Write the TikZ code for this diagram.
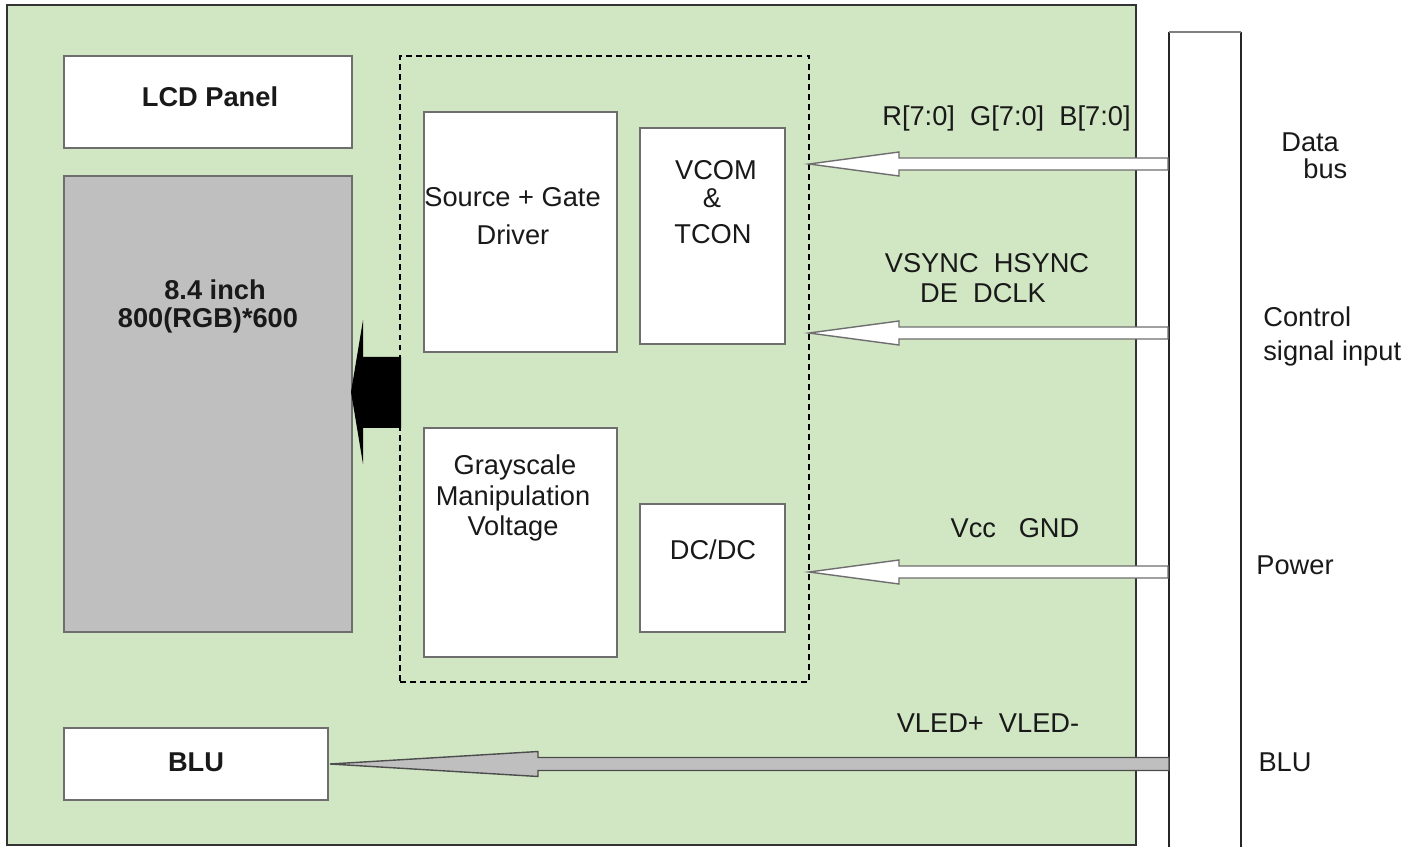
\documentclass[tikz,border=0pt]{standalone}
\usepackage{fontspec}
\setmainfont{Liberation Sans}
\usetikzlibrary{fit,calc}
\definecolor{bggreen}{RGB}{209,231,196}
\definecolor{panelgray}{RGB}{191,191,191}
\definecolor{edgegray}{RGB}{110,110,110}
\definecolor{txt}{RGB}{25,25,25}
\newcommand\flatarrow[6]{(#1,#2) -- (#3,{#2-#5}) -- (#3,{#2-#6}) -- (#4,{#2-#6}) -- (#4,{#2+#6}) -- (#3,{#2+#6}) -- (#3,{#2+#5}) -- cycle}
\begin{document}
\begin{tikzpicture}[x=0.02cm,y=-0.02cm,
  every node/.style={font=\fontsize{15.5}{18}\selectfont, text=txt, inner sep=0pt},
  box/.style={draw=edgegray, line width=0.8pt, fill=white, inner sep=0pt},
  lbl/.style={anchor=base},
  lblw/.style={anchor=base west},
  bold/.style={font=\fontsize{15.5}{18}\selectfont\bfseries},
  sigarrow/.style={draw=edgegray, line width=0.8pt, fill=white},
]
\useasboundingbox (0,0) rectangle (1419,847);
% background board
\node[draw=black!80, line width=0.8pt, fill=bggreen, fit={(7,5)(1136,845)}] (board) {};
% connector bar
\coordinate (barTL) at (1169,32);
\coordinate (barTR) at (1241,32);
\fill[white] (1169,32) rectangle (1241,847);
\draw[black!85, line width=0.8pt] (1169,847) -- (barTL);
\draw[black!85, line width=0.8pt] (1241,847) -- (barTR);
\draw[gray, line width=1pt] (barTL) -- (barTR);

% boxes
\node[box, fit={(64,56)(352,148)}] (lcd) {};
\node[box, fill=panelgray, fit={(64,176)(352,632)}] (panel) {};
\node[draw=black, dash pattern=on 3.4pt off 2.3pt, line width=0.9pt, fit={(400,56)(809,682)}] (ctrl) {};
\node[box, fit={(424,112)(617,352)}] (src) {};
\node[box, fit={(640,128)(785,344)}] (vcom) {};
\node[box, fit={(424,428)(617,657)}] (gray) {};
\node[box, fit={(640,504)(785,632)}] (dcdc) {};
\node[box, fit={(64,728)(328,800)}] (blu) {};

% texts in boxes
\node[lbl, bold] (tlcd) at (210,107) {LCD Panel};
\node[lbl, bold] (tsize1) at (215,300) {8.4 inch};
\node[lbl, bold] (tsize2) at (208,328) {800(RGB)*600};
\node[lblw] (tsrc1) at (424,207) {Source + Gate};
\node[lbl] (tsrc2) at (513,245) {Driver};
\node[lbl] (tv1) at (716,180) {VCOM};
\node[lbl] (tv2) at (712,208) {\&};
\node[lbl] (tv3) at (713,244) {TCON};
\node[lbl] (tg1) at (515,475) {Grayscale};
\node[lbl] (tg2) at (513,505) {Manipulation};
\node[lbl] (tg3) at (513,535) {Voltage};
\node[lbl] (tdc) at (713,559) {DC/DC};
\node[lbl, bold] (tblu) at (196,771) {BLU};

% signal labels
\node[lblw] (sdata) at (882,126) {R[7:0]\ \ G[7:0]\ \ B[7:0]};
\node[lbl] (sctl1) at (987,273) {VSYNC\ \ HSYNC};
\node[lbl] (sctl2) at (983,303) {DE\ \ DCLK};
\node[lbl] (spow) at (1015,537) {Vcc\ \ \ GND};
\node[lbl] (sled) at (988,732) {VLED+\ \ VLED-};

% right labels
\node[lblw] (rdata1) at (1281,152) {Data};
\node[lblw] (rdata2) at (1303,179) {bus};
\node[lblw] (rctl1) at (1263,327) {Control};
\node[lblw] (rctl2) at (1263,361) {signal input};
\node[lbl] (rpow) at (1295,574) {Power};
\node[lbl] (rblu) at (1285,771) {BLU};

% signal arrows (bar -> controller)
\draw[sigarrow] \flatarrow{809}{164}{899}{1168}{12}{6};
\draw[sigarrow] \flatarrow{809}{333}{899}{1168}{12}{6};
\draw[sigarrow] \flatarrow{809}{572}{899}{1168}{12}{6};
% backlight arrow
\draw[draw=black!70, line width=0.8pt, fill=panelgray] \flatarrow{330}{764}{538}{1169}{12.5}{6.5};
% driver -> panel arrow
\fill[black] (351,392) -- (363,320) -- (363,357) -- (401,357) -- (401,428) -- (363,428) -- (363,464) -- cycle;
\end{tikzpicture}
\end{document}
